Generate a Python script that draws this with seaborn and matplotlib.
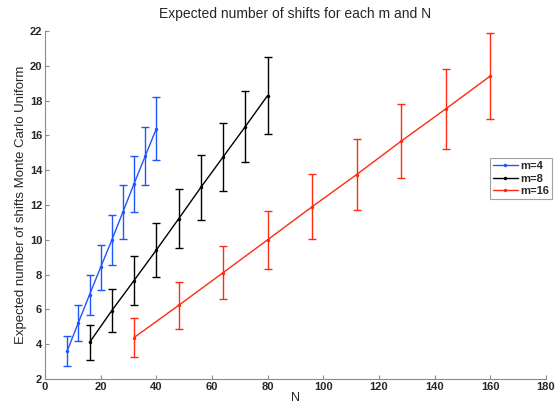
import pandas as pd
import seaborn as sns
import matplotlib.pyplot as plt

# values
n_m4 = [8, 12, 16, 20, 24, 28, 32, 36, 40]
y_m4 = [3.62, 5.24, 6.84, 8.42, 9.98, 11.6, 13.22, 14.8, 16.38]
e_m4 = [0.85, 1.04, 1.16, 1.28, 1.42, 1.53, 1.6, 1.67, 1.81]

n_m8 = [16, 24, 32, 40, 48, 56, 64, 72, 80]
y_m8 = [4.1, 5.93, 7.66, 9.41, 11.2, 13.01, 14.76, 16.51, 18.29]
e_m8 = [1.0, 1.25, 1.39, 1.53, 1.7, 1.85, 1.95, 2.04, 2.2]

n_m16 = [32, 48, 64, 80, 96, 112, 128, 144, 160]
y_m16 = [4.38, 6.23, 8.11, 10.0, 11.9, 13.75, 15.67, 17.52, 19.41]
e_m16 = [1.12, 1.35, 1.52, 1.68, 1.88, 2.02, 2.13, 2.28, 2.45]

labels = ['m=4', 'm=8', 'm=16']
colors = ['#1f55ff', '#000000', '#ff2a12']

df = pd.concat([
    pd.DataFrame({'N': n_m4, 'shifts': y_m4, 'err': e_m4, 'm': 'm=4'}),
    pd.DataFrame({'N': n_m8, 'shifts': y_m8, 'err': e_m8, 'm': 'm=8'}),
    pd.DataFrame({'N': n_m16, 'shifts': y_m16, 'err': e_m16, 'm': 'm=16'}),
])

sns.set_style('white')
plt.rcParams['font.family'] = ['Liberation Sans', 'DejaVu Sans']

fig = plt.figure(figsize=(5.59, 4.04), dpi=100)
ax = fig.add_axes([0.0805, 0.0619, 0.896, 0.8614])

palette = dict(zip(labels, colors))
sns.lineplot(data=df, x='N', y='shifts', hue='m', hue_order=labels, palette=palette,
             marker='.', markersize=5, markeredgewidth=0, linewidth=1.0, ax=ax)

# error bars
for lab in labels:
    sub = df[df['m'] == lab]
    ax.errorbar(sub['N'], sub['shifts'], yerr=sub['err'], fmt='none',
                ecolor=palette[lab], elinewidth=1.0, capsize=3, capthick=1.0)

ax.set_xlim(0, 180)
ax.set_ylim(2, 22)
ax.set_xticks(range(0, 181, 20))
ax.set_yticks(range(2, 23, 2))

for s in ['top', 'right']:
    ax.spines[s].set_visible(False)
for s in ['left', 'bottom']:
    ax.spines[s].set_color('#8a8a8a')
    ax.spines[s].set_linewidth(0.8)

ax.tick_params(direction='in', length=3, width=0.8, color='#8a8a8a',
               labelsize=8, pad=2, bottom=True, left=True)
for t in ax.get_xticklabels() + ax.get_yticklabels():
    t.set_fontweight('bold')

ax.set_title('Expected number of shifts for each m and N', fontsize=10, pad=9)
ax.set_xlabel('N', fontsize=9, labelpad=0)
ax.set_ylabel('Expected number of shifts Monte Carlo Uniform', fontsize=9.5, labelpad=2)

leg = ax.legend(loc='upper left', bbox_to_anchor=(0.888, 0.635), fontsize=8,
                frameon=True, fancybox=False, handlelength=2.2, handletextpad=0.2,
                borderpad=0.3, labelspacing=0.2, borderaxespad=0)
leg.get_frame().set_edgecolor('#8a8a8a')
leg.get_frame().set_linewidth(0.8)
for t in leg.get_texts():
    t.set_fontweight('bold')

fig.savefig('out.png', dpi=100)
